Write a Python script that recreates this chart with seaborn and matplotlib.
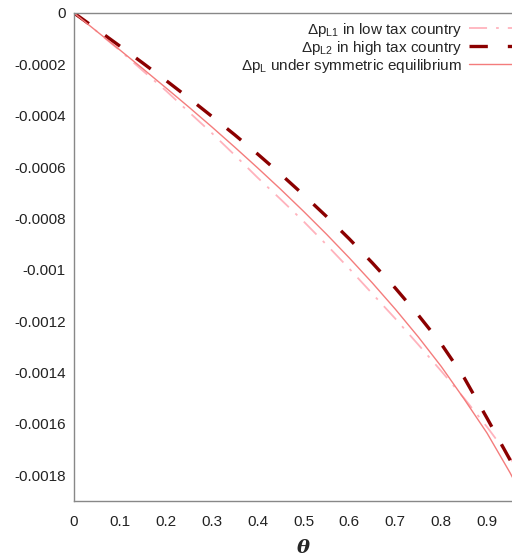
import pandas as pd
import numpy as np
import matplotlib
matplotlib.use("Agg")
import matplotlib.pyplot as plt
import seaborn as sns

# values
theta = [0.0, 0.05, 0.1, 0.15, 0.2, 0.25, 0.3, 0.35, 0.4, 0.45, 0.5,
         0.55, 0.6, 0.65, 0.7, 0.75, 0.8, 0.85, 0.9, 0.95, 1.0]
dp_low = [0, -0.000072, -0.000146, -0.000225, -0.000302, -0.000385, -0.000467,
          -0.000553, -0.000641, -0.000725, -0.000811, -0.000902, -0.000996,
          -0.001093, -0.001190, -0.001291, -0.001394, -0.001500, -0.001612,
          -0.001732, -0.00186]
dp_high = [0, -0.000064, -0.000129, -0.000195, -0.000262, -0.000331, -0.000402,
           -0.000474, -0.000549, -0.000627, -0.000708, -0.000792, -0.000880,
           -0.000973, -0.001071, -0.001176, -0.001288, -0.001420, -0.001578,
           -0.001740, -0.00192]
dp_sym = [0, -0.000072, -0.000144, -0.000217, -0.000291, -0.000366, -0.000443,
          -0.000522, -0.000603, -0.000686, -0.000772, -0.000861, -0.000954,
          -0.001051, -0.001153, -0.001261, -0.001376, -0.001503, -0.001636,
          -0.001790, -0.00196]
yticks = [0, -0.0002, -0.0004, -0.0006, -0.0008, -0.001, -0.0012, -0.0014, -0.0016, -0.0018]
ytick_labels = ["0", "-0.0002", "-0.0004", "-0.0006", "-0.0008", "-0.001",
                "-0.0012", "-0.0014", "-0.0016", "-0.0018"]
# the tick at 1 falls outside the cropped picture
xticks = [0, 0.1, 0.2, 0.3, 0.4, 0.5, 0.6, 0.7, 0.8, 0.9]
xtick_labels = ["0", "0.1", "0.2", "0.3", "0.4", "0.5", "0.6", "0.7", "0.8", "0.9"]

df = pd.DataFrame({"theta": theta, "low": dp_low, "high": dp_high, "sym": dp_sym})

sns.set_style("white")
plt.rcParams["font.family"] = ["Liberation Sans", "DejaVu Sans"]
plt.rcParams["mathtext.fontset"] = "custom"
plt.rcParams["mathtext.rm"] = "Liberation Sans"
plt.rcParams["mathtext.it"] = "Liberation Sans:italic"

fig = plt.figure(figsize=(5.12, 5.58), dpi=100)
# the reference is cropped on the right, so the axes run past the figure edge
ax = fig.add_axes([74 / 512, 1 - 501 / 558, 459 / 512, 488 / 558])

sns.lineplot(data=df, x="theta", y="low", ax=ax, color="#ffb3bd", lw=1.3,
             label=r"$\Delta$p$_{\rm L1}$ in low tax country")
ax.lines[-1].set_dashes([10, 5, 1.5, 5])
sns.lineplot(data=df, x="theta", y="high", ax=ax, color="#8b0000", lw=2.4,
             label=r"$\Delta$p$_{\rm L2}$ in high tax country")
ax.lines[-1].set_dashes([5.5, 6])
sns.lineplot(data=df, x="theta", y="sym", ax=ax, color="#f47c7c", lw=1.0,
             label=r"$\Delta$p$_{\rm L}$ under symmetric equilibrium")

ax.set_xlim(0, 1)
ax.set_ylim(-0.0019, 0)
ax.set_xticks(xticks)
ax.set_xticklabels(xtick_labels)
ax.set_yticks(yticks)
ax.set_yticklabels(ytick_labels)
ax.tick_params(direction="in", length=6, width=1, color="#888888",
               labelsize=11, labelcolor="#222222", pad=6)
ax.tick_params(axis="x", pad=10)
for s in ax.spines.values():
    s.set_color("#888888")
    s.set_linewidth(1)

ax.set_ylabel("")
ax.set_xlabel("θ", fontsize=14, fontweight="bold", fontstyle="italic",
              family="DejaVu Serif", labelpad=7)

leg = ax.legend(loc="upper right", frameon=False, markerfirst=False,
                fontsize=11, handlelength=3.66, handletextpad=0.5,
                labelspacing=0.0, borderaxespad=0.1)

fig.savefig("out.png", dpi=100)
